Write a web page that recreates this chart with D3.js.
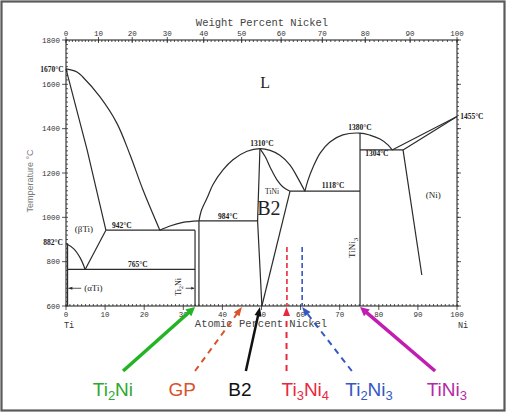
<!DOCTYPE html>
<html><head><meta charset="utf-8">
<script src="https://d3js.org/d3.v7.min.js"></script>
<style>body{margin:0;background:#fff}</style>
</head><body><script>
// ---------- DATA (at% Ni, °C) ----------
const liqBetaTi = [[0,1670],[2.8,1656],[4.3,1633],[8.7,1543],[13.0,1425],[16.4,1281],[19.7,1123],[24.0,942]];
const solBetaTi = [[0,1670],[5.4,1304],[10.2,942]];
const betaTransus = [[10.2,942],[4.9,765]];
const alphaBeta = [[0,882],[2.0,858],[3.7,815],[4.9,765]];
const alphaSolvus = [[0.4,882],[0.4,600]];
const eut942 = [[10.2,942],[33.0,942]];
const eut765 = [[0.4,765],[33.0,765]];
const ti2NiLeft = [[33.0,942],[33.0,600]];
const ti2NiRight = [[34.0,984],[34.0,600]];
const liqTi2Ni = [[24.0,942],[26.6,961],[29.9,977],[34.0,984]];
const per984 = [[34.0,984],[49.0,984]];
const liqTiNi = [[34.0,984],[34.6,1030],[36.1,1088],[37.6,1148],[40.2,1215],[42.7,1260],[46.3,1298],[49.6,1310],[52.2,1302],[54.7,1280],[57.3,1236],[59.3,1177],[61.1,1118]];
const b2Left = [[49.6,1310],[49.0,984],[50.1,600]];
const solTiNiR = [[49.6,1310],[51.0,1272],[52.3,1223],[54.0,1168],[55.5,1137],[57.3,1118]];
const b2Right = [[57.3,1118],[50.1,600]];
const eut1118 = [[57.3,1118],[75.2,1118]];
const liqTiNi3 = [[61.1,1118],[61.9,1168],[63.2,1227],[65.0,1290],[67.5,1340],[70.8,1372],[75.2,1380],[77.7,1371],[80.3,1353],[82.4,1326],[83.4,1304]];
const tiNi3Line = [[75.2,1380],[75.2,600]];
const eut1304 = [[75.2,1304],[86.2,1304]];
const liqNi = [[83.4,1304],[100,1455]];
const solNi = [[86.2,1304],[100,1455]];
const solvNi = [[86.2,1304],[91.0,740]];
const ti3Ni4Mark = [[56.5,866],[56.5,600]];
const ti2Ni3Mark = [[60.4,866],[60.4,600]];

const curvedSets = [liqBetaTi, alphaBeta, liqTi2Ni, liqTiNi, solTiNiR, liqTiNi3];
const straightSets = [solBetaTi, betaTransus, alphaSolvus, eut942, eut765, ti2NiLeft, ti2NiRight, per984, b2Left, b2Right, eut1118, tiNi3Line, eut1304, liqNi, solNi, solvNi];

const tempLabels = ["1670°C","882°C","942°C","765°C","984°C","1310°C","1118°C","1380°C","1304°C","1455°C"];
const tempLabelAt = [[-0.6,1656],[-0.8,876],[14.3,952],[18.4,776],[41.4,992],[50.1,1322],[68.3,1132],[75.2,1394],[79.5,1277],[100.8,1444]];

const phaseNames = ["L","(βTi)","(αTi)","(Ni)","TiNi"];
const phaseAt = [[50.9,1583],[4.6,934],[7.0,668],[93.9,1087],[52.7,1106]];

const wtTicks = [0,10,20,30,40,50,60,70,80,90,100];
const atTicks = [0,10,20,30,40,50,60,70,80,90,100];
const tTicks = [600,800,1000,1200,1400,1600,1800];

const annoNames = ["Ti2Ni","GP","B2","Ti3Ni4","Ti2Ni3","TiNi3"];
const annoIsFormula = [true,false,false,true,true,true];
const annoTarget = [33.0, 45.0, 49.6, 56.4, 60.4, 75.2];
const annoTail = [14.6, 33.0, 46.0, 56.4, 73.1, 94.4];
const annoLabelAt = [12.0, 29.7, 44.5, 61.2, 77.5, 97.4];

// ---------- STYLES ----------
const annoColor = ["#22b422","#d9532b","#111111","#e8283f","#3557c4","#c11db3"];
const annoTextColor = ["#2ea82e","#d9532b","#111111","#e8283f","#3557c4","#b42aa5"];
const annoDash = [null,"6,5",null,"6,5","6,5",null];
const annoWidth = [3.5,2,2.5,2,2,3.5];

const W=506,H=412;
const svg = d3.select("body").append("svg").attr("width",W).attr("height",H);
svg.append("rect").attr("x",1.5).attr("y",1.5).attr("width",W-3).attr("height",H-3)
  .attr("fill","#fff").attr("stroke","#5a5a5a").attr("stroke-width",2.2);

const x = d3.scaleLinear().domain([0,100]).range([66,457]);
const y = d3.scaleLinear().domain([600,1800]).range([306,40]);
const wtToAt = w => { const n=w/58.69, t=(100-w)/47.87; return (n+t)===0?0:100*n/(n+t); };

const ink = "#2b2b2b";
const g = svg.append("g");

// frame
g.append("rect").attr("x",x(0)).attr("y",y(1800)).attr("width",x(100)-x(0)).attr("height",y(600)-y(1800))
  .attr("fill","none").attr("stroke",ink).attr("stroke-width",1.1);

// ticks
const tk = g.append("g").attr("stroke",ink).attr("stroke-width",0.8);
for(let t=600;t<=1800;t+=20){
  tk.append("line").attr("x1",x(0)).attr("x2",x(0)+2).attr("y1",y(t)).attr("y2",y(t));
  tk.append("line").attr("x1",x(100)).attr("x2",x(100)+2).attr("y1",y(t)).attr("y2",y(t));
}
tTicks.forEach(t=>{
  tk.append("line").attr("x1",x(0)-4).attr("x2",x(0)).attr("y1",y(t)).attr("y2",y(t));
  tk.append("line").attr("x1",x(100)).attr("x2",x(100)+4).attr("y1",y(t)).attr("y2",y(t));
});
for(let a=0;a<=100;a+=1){
  tk.append("line").attr("x1",x(a)).attr("x2",x(a)).attr("y1",y(600)).attr("y2",y(600)-2);
}
atTicks.forEach(a=>tk.append("line").attr("x1",x(a)).attr("x2",x(a)).attr("y1",y(600)).attr("y2",y(600)+4));
for(let w=0;w<=100;w+=1){
  tk.append("line").attr("x1",x(wtToAt(w))).attr("x2",x(wtToAt(w))).attr("y1",y(1800)).attr("y2",y(1800)+2);
}
wtTicks.forEach(w=>tk.append("line").attr("x1",x(wtToAt(w))).attr("x2",x(wtToAt(w))).attr("y1",y(1800)-3).attr("y2",y(1800)+3));

const mono = "'Liberation Mono','DejaVu Sans Mono',monospace";
const serif = "'Liberation Serif','DejaVu Serif',serif";
tTicks.forEach(t=>g.append("text").attr("x",x(0)-6).attr("y",y(t)+2.5).attr("text-anchor","end")
  .attr("font-family",mono).attr("font-size",7.5).attr("fill","#333").text(t));
atTicks.forEach(a=>g.append("text").attr("x",x(a)).attr("y",316.5).attr("text-anchor","middle")
  .attr("font-family",mono).attr("font-size",7.5).attr("fill","#333").text(a));
wtTicks.forEach(w=>g.append("text").attr("x",x(wtToAt(w))).attr("y",36).attr("text-anchor","middle")
  .attr("font-family",mono).attr("font-size",7.5).attr("fill","#333").text(w));

g.append("text").attr("x",262).attr("y",25.5).attr("text-anchor","middle").attr("font-family",mono)
  .attr("font-size",10.5).attr("fill","#444").text("Weight Percent Nickel");
g.append("text").attr("x",261).attr("y",326.5).attr("text-anchor","middle").attr("font-family",mono)
  .attr("font-size",10.5).attr("fill","#444").text("Atomic Percent Nickel");
g.append("text").attr("x",64).attr("y",328).attr("font-family",mono).attr("font-size",8.5).attr("fill","#333").text("Ti");
g.append("text").attr("x",458).attr("y",328).attr("font-family",mono).attr("font-size",8.5).attr("fill","#333").text("Ni");
g.append("text").attr("transform","translate(33,181) rotate(-90)").attr("text-anchor","middle")
  .attr("font-family","'Liberation Sans',Arial,sans-serif").attr("font-size",9).attr("fill","#777").text("Temperature °C");

// phase boundaries
const lineS = d3.line().x(d=>x(d[0])).y(d=>y(d[1]));
const lineC = d3.line().x(d=>x(d[0])).y(d=>y(d[1])).curve(d3.curveCatmullRom.alpha(0.5));
const pb = g.append("g").attr("fill","none").attr("stroke",ink).attr("stroke-width",1.2);
straightSets.forEach(s=>pb.append("path").attr("d",lineS(s)));
curvedSets.forEach(s=>pb.append("path").attr("d",lineC(s)));

// dashed markers
g.append("path").attr("d",lineS(ti3Ni4Mark)).attr("stroke","#e8283f").attr("stroke-width",1.6).attr("stroke-dasharray","5,3").attr("fill","none");
g.append("path").attr("d",lineS(ti2Ni3Mark)).attr("stroke","#3557c4").attr("stroke-width",1.6).attr("stroke-dasharray","5,3").attr("fill","none");

// labels
tempLabels.forEach((t,i)=>{
  const p=tempLabelAt[i];
  const anchor = p[0]<0?"end":(p[0]>100?"start":"middle");
  g.append("text").attr("x",x(p[0])).attr("y",y(p[1])).attr("text-anchor",anchor)
   .attr("font-family",serif).attr("font-weight","bold").attr("font-size",7.5).attr("fill","#222").text(t);
});
phaseNames.forEach((t,i)=>{
  const p=phaseAt[i];
  g.append("text").attr("x",x(p[0])).attr("y",y(p[1])).attr("text-anchor","middle")
   .attr("font-family",serif).attr("font-size", t==="L"?16:(t==="TiNi"?7.5:9)).attr("fill","#222").text(t);
});
g.append("text").attr("x",x(51.9)).attr("y",y(1012)).attr("text-anchor","middle")
  .attr("font-family",serif).attr("font-size",20).attr("fill","#222").text("B2");

// formula text with subscripts
function subText(sel, name, big, small, dy){
  const parts = name.match(/[A-Za-z]+|\d+/g);
  let down=false;
  parts.forEach(p=>{
    if(/\d/.test(p)){ sel.append("tspan").attr("font-size",small).attr("dy",dy).text(p); down=true; }
    else { sel.append("tspan").attr("font-size",big).attr("dy",down?-dy:0).text(p); down=false; }
  });
}
const rt1 = g.append("text").attr("transform",`translate(${x(29.4)},${y(686)}) rotate(-90)`).attr("text-anchor","middle")
  .attr("font-family",serif).attr("fill","#222");
subText(rt1,"Ti2Ni",8,6,2);
const rt2 = g.append("text").attr("transform",`translate(${x(73.2)+3},${y(862)}) rotate(-90)`).attr("text-anchor","middle")
  .attr("font-family",serif).attr("fill","#222");
subText(rt2,"TiNi3",9,7,2.5);

// small arrows (αTi) and Ti2Ni
function arrowHead(sel,x1,y1,x2,y2,len,wid,col){
  const a=Math.atan2(y2-y1,x2-x1);
  const bx=x2-len*Math.cos(a), by=y2-len*Math.sin(a);
  const px=-Math.sin(a)*wid/2, py=Math.cos(a)*wid/2;
  sel.append("path").attr("d",`M${x2},${y2}L${bx+px},${by+py}L${bx-px},${by-py}Z`).attr("fill",col);
}
g.append("line").attr("x1",x(3.9)).attr("x2",x(0.6)).attr("y1",y(680)).attr("y2",y(680)).attr("stroke",ink).attr("stroke-width",0.8);
arrowHead(g,x(3.9),y(680),x(0.6),y(680),4,3,ink);
g.append("line").attr("x1",x(30.6)).attr("x2",x(32.8)).attr("y1",y(680)).attr("y2",y(680)).attr("stroke",ink).attr("stroke-width",0.8);
arrowHead(g,x(30.6),y(680),x(32.8),y(680),3,3,ink);

// bottom annotations
const tipY = 307, tailY = 371, labelY = 396;
annoNames.forEach((n,i)=>{
  const x1=x(annoTail[i]), x2=x(annoTarget[i]);
  const len=9, a=Math.atan2(tipY-tailY,x2-x1);
  const ex=x2-len*0.8*Math.cos(a), ey=tipY-len*0.8*Math.sin(a);
  const l=g.append("line").attr("x1",x1).attr("y1",tailY).attr("x2",ex).attr("y2",ey)
    .attr("stroke",annoColor[i]).attr("stroke-width",annoWidth[i]);
  if(annoDash[i]) l.attr("stroke-dasharray",annoDash[i]);
  arrowHead(g,x1,tailY,x2,tipY,len,annoWidth[i]>3?9:7,annoColor[i]);
  const t=g.append("text").attr("x",x(annoLabelAt[i])).attr("y",labelY).attr("text-anchor","middle")
    .attr("font-family","'Liberation Sans',Arial,sans-serif").attr("fill",annoTextColor[i]);
  if(annoIsFormula[i]) subText(t,n,19,13,4);
  else t.attr("font-size",19).text(n);
});
</script></body></html>
